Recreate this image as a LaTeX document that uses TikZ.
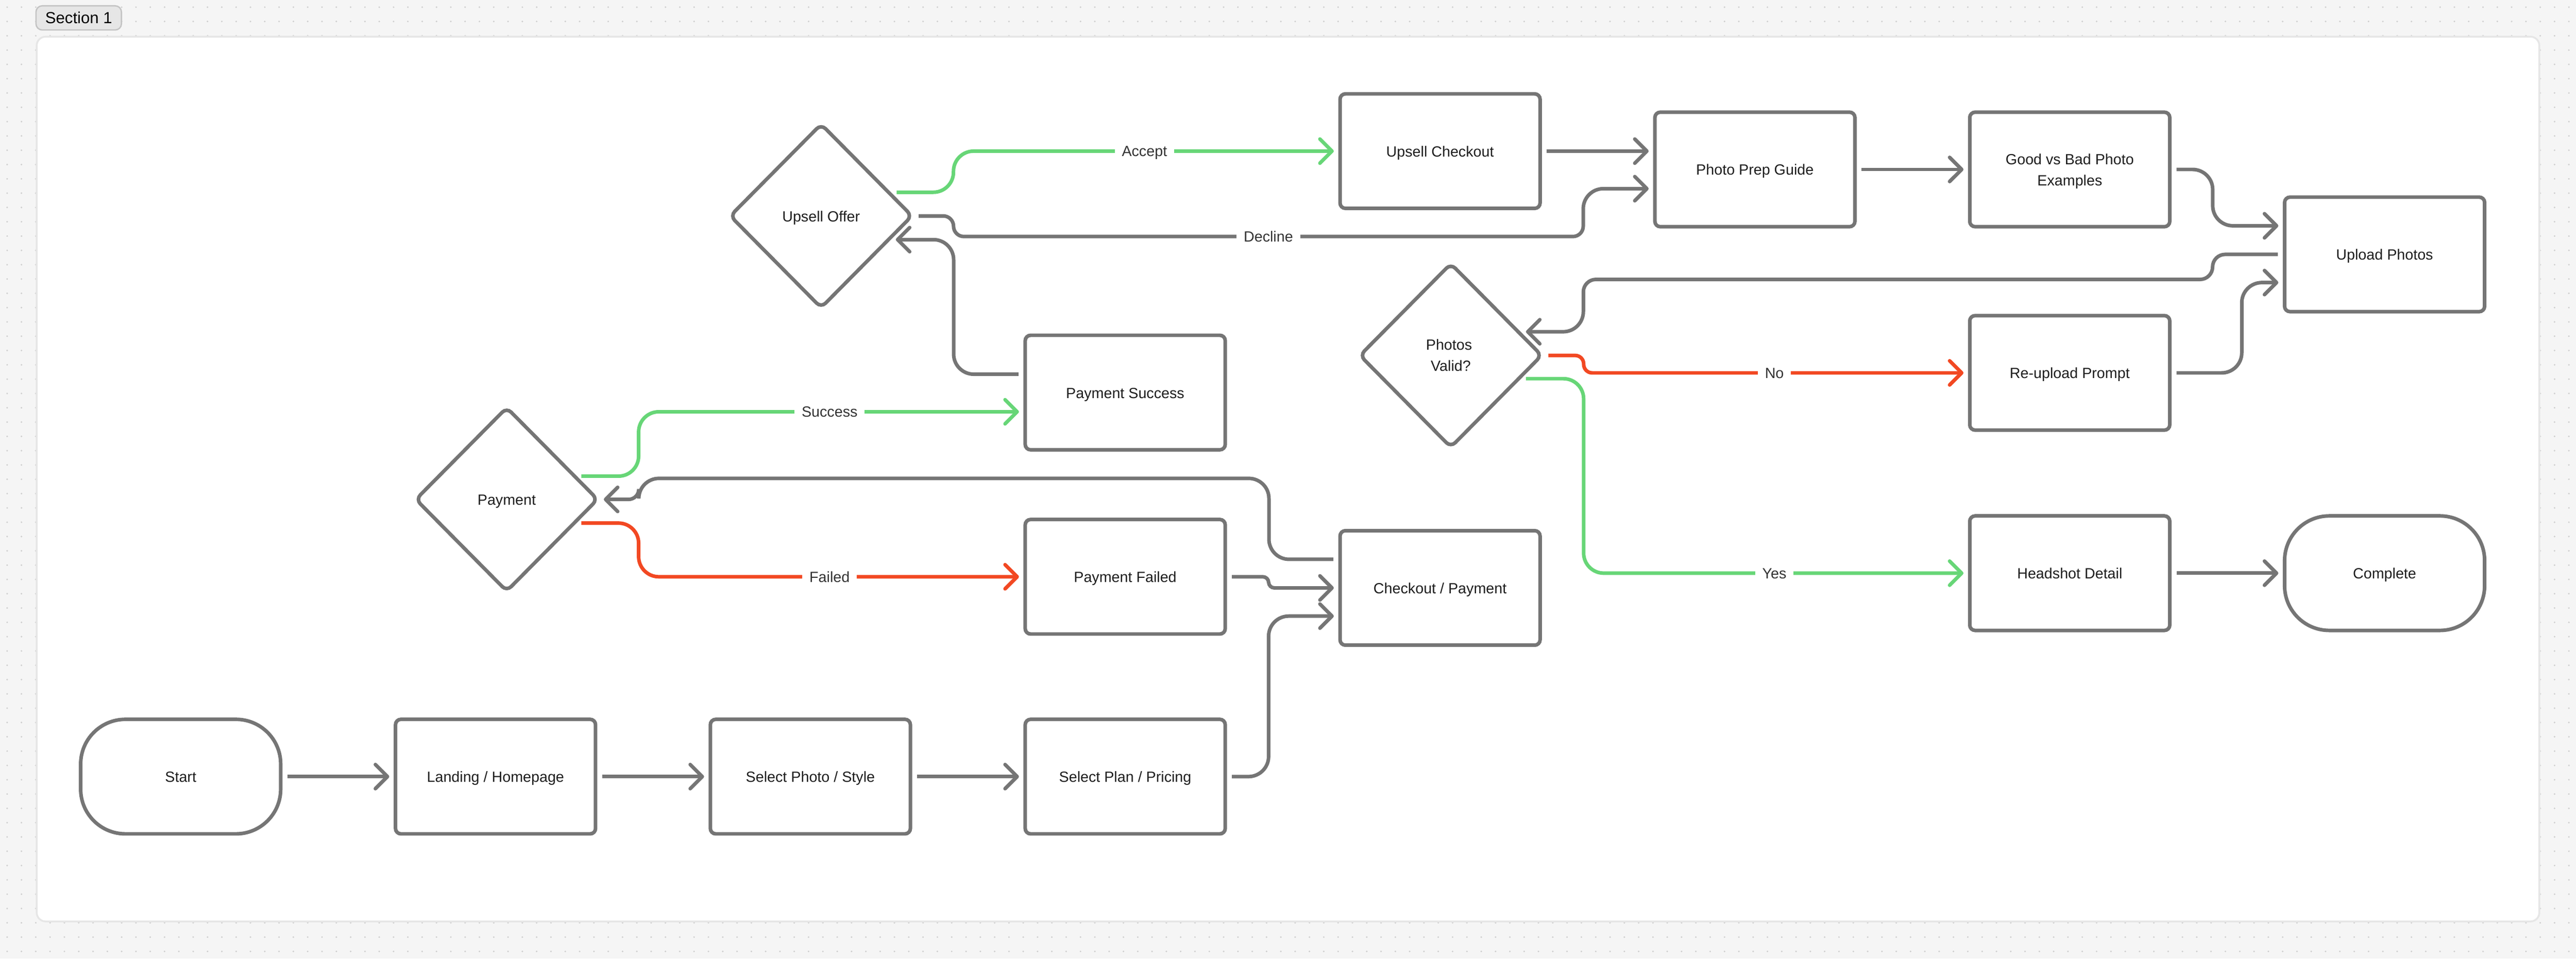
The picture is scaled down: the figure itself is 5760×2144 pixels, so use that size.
\documentclass[tikz,border=0pt]{standalone}
\usepackage{fontspec}
\setmainfont{Liberation Sans}
\usepackage{xcolor}
\usepackage{tikz}
\usetikzlibrary{arrows.meta, shapes.geometric}

\definecolor{pagegray}{HTML}{F5F5F5}
\definecolor{dotgray}{HTML}{CFCFCF}
\definecolor{framegray}{HTML}{E6E6E6}
\definecolor{tagline}{HTML}{C4C4C4}
\definecolor{linegray}{HTML}{757575}
\definecolor{okgreen}{HTML}{67D677}
\definecolor{badred}{HTML}{F24822}
\definecolor{inkgray}{HTML}{1E1E1E}
\definecolor{labelgray}{HTML}{333333}

\begin{document}
\begin{tikzpicture}[x=0.01cm, y=-0.01cm]
    % Define styles for the boxes and the links
    \tikzstyle{flowbox} = [draw=linegray, fill=white, line width=0.08cm, rectangle, rounded corners=0.12cm, outer sep=0pt, minimum width=4.47cm, minimum height=2.56cm, align=center, text=inkgray, text height=0.25cm, text depth=0cm, font=\fontsize{9.4}{13.6}\selectfont]
    \tikzstyle{endbox} = [flowbox, rounded corners=1cm]
    \tikzstyle{choice} = [flowbox, diamond, aspect=1, inner sep=0pt, rounded corners=0.14cm, minimum width=4.06cm, minimum height=4.1cm]
    \tikzstyle{link} = [draw=linegray, line width=0.08cm, rounded corners=0.45cm, shorten <=0.15cm, shorten >=0.14cm, -{Straight Barb[length=0.27cm, width=0.54cm, round]}]
    \tikzstyle{flowlabel} = [draw=none, fill=white, sharp corners, inner xsep=0.16cm, inner ysep=0.04cm, text=labelgray, text height=0.24cm, text depth=0cm, font=\fontsize{9.4}{13.6}\selectfont]

    % Page, dots in the margins and frame
    \useasboundingbox (0,0) rectangle (5760,2144);
    \fill [pagegray] (0,0) rectangle (5760,2144);
    \foreach \y in {16,48,80,2064,2096,2128} {
        \fill [dotgray] \foreach \x in {16,48,...,5744} {(\x,\y) circle (0.02cm)};
    }
    \foreach \x in {16,48,80,5680,5712,5744} {
        \fill [dotgray] \foreach \y in {112,144,...,2032} {(\x,\y) circle (0.02cm)};
    }
    \draw [framegray, fill=white, line width=0.04cm, rounded corners=0.2cm] (82,82) rectangle (5678,2061);
    \node [draw=tagline, fill=framegray, line width=0.03cm, rounded corners=0.14cm, minimum width=1.91cm, minimum height=0.54cm, inner sep=0pt, text=black, font=\fontsize{10.2}{12}\selectfont] (section) at (176,40) {Section 1};

    % Nodes for the bottom row
    \node [endbox] (start) at (404,1737) {Start};
    \node [flowbox] (landing) at (1108,1737) {Landing / Homepage};
    \node [flowbox] (photostyle) at (1812,1737) {Select Photo / Style};
    \node [flowbox] (plan) at (2516,1737) {Select Plan / Pricing};

    % Nodes for checkout and payment
    \node [flowbox] (checkout) at (3220,1315) {Checkout / Payment};
    \node [flowbox] (failed) at (2516,1290) {Payment Failed};
    \node [flowbox] (success) at (2516,878) {Payment Success};
    \node [choice] (payment) at (1133,1117) {Payment};

    % Nodes for the upsell
    \node [choice] (upsell) at (1836,483) {Upsell Offer};
    \node [flowbox] (upsellpay) at (3220,338) {Upsell Checkout};

    % Nodes for the photos
    \node [flowbox] (prep) at (3924,379) {Photo Prep Guide};
    \node [flowbox, text height=0.73cm] (examples) at (4628,379) {Good vs Bad Photo \\ Examples};
    \node [flowbox] (upload) at (5332,569) {Upload Photos};
    \node [choice, text height=0.71cm] (photos) at (3244,795) {Photos\hspace*{0.08cm} \\ Valid?};
    \node [flowbox] (reupload) at (4628,834) {Re-upload Prompt};
    \node [flowbox] (headshot) at (4628,1282) {Headshot Detail};
    \node [endbox] (complete) at (5332,1282) {Complete};

    % Straight links
    \draw [link] (start) -- (landing);
    \draw [link] (landing) -- (photostyle);
    \draw [link] (photostyle) -- (plan);
    \draw [link] (upsellpay) -- (upsellpay -| prep.west);
    \draw [link] (prep) -- (examples);
    \draw [link] (headshot) -- (complete);

    % Links into checkout and back to payment
    \draw [link] (plan.east) -- ++(97,0) |- ([shift={(0,63)}]checkout.west);
    \draw [link, rounded corners=0.13cm] (failed.east) -- ++(97,0) |- (checkout.west);
    \draw [link] ([shift={(0,-64)}]checkout.west) -- ++(-159,0) -- ++(0,-181) -- ++(-1409,0) [rounded corners=0.23cm] |- (payment.east);

    % Links out of payment
    \draw [link, okgreen] ([shift={(152,-52)}]payment.center) -- ++(143,0) |- node[flowlabel, pos=0.747] {Success} ([shift={(0,43)}]success.west);
    \draw [link, badred] ([shift={(152,53)}]payment.center) -- ++(143,0) |- node[flowlabel, pos=0.747] {Failed} (failed.west);
    \draw [link] ([shift={(0,-41)}]success.west) -- ++(-160,0) |- ([shift={(153,53)}]upsell.center);

    % Links out of the upsell
    \draw [link, okgreen] ([shift={(154,-53)}]upsell.center) -- ++(142,0) |- node[flowlabel, pos=0.747] {Accept} (upsellpay.west);
    \draw [link, rounded corners=0.23cm] (upsell.east) -- ++(93,0) -- ++(0,46) -- node[flowlabel] {Decline} ++(1408,0) [rounded corners=0.45cm] |- ([shift={(0,43)}]prep.west);

    % Links around the upload
    \draw [link] (examples.east) -- ++(96,0) |- ([shift={(0,-64)}]upload.west);
    \draw [link] (reupload.east) -- ++(161,0) |- ([shift={(0,63)}]upload.west);
    \draw [link, rounded corners=0.28cm] (upload.west) -- ++(-161,0) -- ++(0,56) -- ++(-1407,0) [rounded corners=0.45cm] |- ([shift={(154,-53)}]photos.center);

    % Links out of the photo check
    \draw [link, badred, rounded corners=0.19cm] (photos.east) -- ++(94,0) |- node[flowlabel, pos=0.747] {No} (reupload.west);
    \draw [link, okgreen] ([shift={(153,52)}]photos.center) -- ++(144,0) |- node[flowlabel, pos=0.747] {Yes} (headshot.west);
\end{tikzpicture}
\end{document}
